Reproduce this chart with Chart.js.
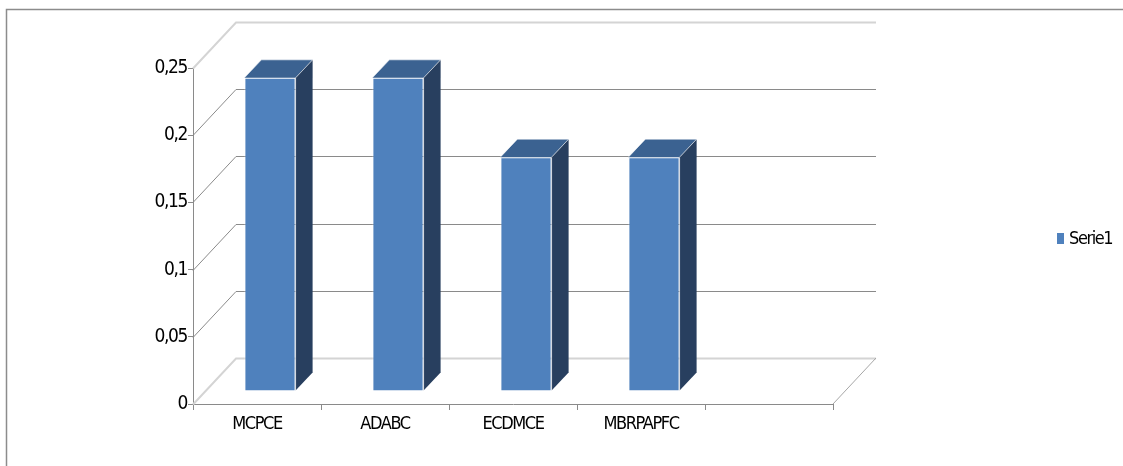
<!DOCTYPE html>
<html>
<head>
<meta charset="utf-8">
<script src="https://cdn.jsdelivr.net/npm/chart.js@4/dist/chart.umd.min.js"></script>
<style>
  html, body { margin: 0; padding: 0; background: #ffffff; }
  #wrap { width: 1123px; height: 466px; }
</style>
</head>
<body>
<div id="wrap"><canvas id="barChart" width="1123" height="466"></canvas></div>
<script>
const categories = ["MCPCE", "ADABC", "ECDMCE", "MBRPAPFC", ""];
const serie1 = [0.233, 0.233, 0.174, 0.174, null];
const yTickLabels = ["0", "0,05", "0,1", "0,15", "0,2", "0,25"];
const seriesName = "Serie1";

const FONT = "'Liberation Sans Narrow', 'DejaVu Sans Condensed', 'Liberation Sans', sans-serif";

// depth of the 3d box (back wall) and of the bars
const WALL_DX = 43, WALL_DY = 46;
const BAR_SHIFT = 13;
const BAR_DX = 17, BAR_DY = 18;

const tightText = {
  id: "tightText",
  beforeLayout(chart) { chart.ctx.letterSpacing = "-1.4px"; },
  beforeDraw(chart) { chart.ctx.letterSpacing = "-1.4px"; }
};

const frame3d = {
  id: "frame3d",
  beforeDraw(chart) {
    const ctx = chart.ctx;
    ctx.save();
    ctx.strokeStyle = "#8c8c8c";
    ctx.lineWidth = 1.5;
    ctx.strokeRect(6.5, 9.5, 1400, 800);
    ctx.restore();
  },
  beforeDatasetsDraw(chart) {
    const ctx = chart.ctx;
    const { left, right, bottom } = chart.chartArea;
    const yScale = chart.scales.y;
    const ticks = yScale.ticks;
    ctx.save();
    ticks.forEach((t, i) => {
      const y = Math.round(yScale.getPixelForValue(t.value)) + 0.5;
      const light = i === 0 || i === ticks.length - 1;
      ctx.strokeStyle = light ? "#d4d4d4" : "#8a8a8a";
      ctx.lineWidth = light ? 2 : 1;
      ctx.beginPath();
      ctx.moveTo(left, y);
      ctx.lineTo(left + WALL_DX, y - WALL_DY);
      ctx.lineTo(right + WALL_DX, y - WALL_DY);
      ctx.stroke();
    });
    // right floor edge
    ctx.strokeStyle = "#a6a6a6";
    ctx.lineWidth = 1;
    ctx.beginPath();
    ctx.moveTo(right, bottom);
    ctx.lineTo(right + WALL_DX, bottom - WALL_DY);
    ctx.stroke();
    ctx.restore();

    // bars stand a little behind the front edge of the floor
    ctx.save();
    ctx.translate(BAR_SHIFT, -BAR_SHIFT);
  },
  afterDatasetsDraw(chart) {
    const ctx = chart.ctx;
    const meta = chart.getDatasetMeta(0);
    meta.data.forEach((bar, i) => {
      if (serie1[i] == null) return;
      const { x, y, base, width } = bar.getProps(["x", "y", "base", "width"], true);
      const l = x - width / 2, r = x + width / 2;
      // top face
      ctx.fillStyle = "#3b6291";
      ctx.beginPath();
      ctx.moveTo(l, y);
      ctx.lineTo(l + BAR_DX, y - BAR_DY);
      ctx.lineTo(r + BAR_DX, y - BAR_DY);
      ctx.lineTo(r, y);
      ctx.closePath();
      ctx.fill();
      // side face
      ctx.fillStyle = "#283f5f";
      ctx.beginPath();
      ctx.moveTo(r, y);
      ctx.lineTo(r + BAR_DX, y - BAR_DY);
      ctx.lineTo(r + BAR_DX, base - BAR_DY);
      ctx.lineTo(r, base);
      ctx.closePath();
      ctx.fill();
      // light edges
      ctx.strokeStyle = "rgba(255,255,255,0.55)";
      ctx.lineWidth = 1;
      ctx.beginPath();
      ctx.moveTo(l, y);
      ctx.lineTo(l + BAR_DX, y - BAR_DY);
      ctx.lineTo(r + BAR_DX, y - BAR_DY);
      ctx.moveTo(r, y);
      ctx.lineTo(r + BAR_DX, y - BAR_DY);
      ctx.moveTo(r, y);
      ctx.lineTo(r, base);
      ctx.stroke();
    });
    ctx.restore();
  },
  afterDraw(chart) {
    // legend on the right
    const ctx = chart.ctx;
    ctx.save();
    ctx.fillStyle = "#4f81bd";
    ctx.fillRect(1057, 233, 7, 11);
    ctx.fillStyle = "#000000";
    ctx.font = "18px " + FONT;
    ctx.textBaseline = "middle";
    ctx.textAlign = "left";
    ctx.fillText(chart.data.datasets[0].label, 1069, 239);
    ctx.restore();
  }
};

new Chart(document.getElementById("barChart"), {
  type: "bar",
  data: {
    labels: categories,
    datasets: [{
      label: seriesName,
      data: serie1,
      backgroundColor: "#4f81bd",
      borderColor: "rgba(255,255,255,0.45)",
      borderWidth: 1,
      barPercentage: 0.4,
      categoryPercentage: 1,
      clip: false
    }]
  },
  options: {
    responsive: false,
    animation: false,
    events: [],
    layout: { padding: { left: 0, right: 290, top: 68, bottom: 0 } },
    plugins: {
      legend: { display: false },
      tooltip: { enabled: false }
    },
    scales: {
      x: {
        offset: true,
        afterFit(scale) { scale.height = 62; },
        grid: {
          offset: true,
          drawOnChartArea: false,
          drawTicks: true,
          tickLength: 6,
          color: "#8a8a8a"
        },
        border: { display: true, color: "#8a8a8a", width: 1 },
        ticks: {
          color: "#000000",
          padding: 4,
          maxRotation: 0,
          autoSkip: false,
          font: { family: FONT, size: 18 }
        }
      },
      y: {
        min: 0,
        max: 0.25,
        afterFit(scale) { scale.width = 193; },
        grid: {
          drawOnChartArea: false,
          drawTicks: true,
          tickLength: 5,
          color: "#8a8a8a"
        },
        border: { display: true, color: "#8a8a8a", width: 1 },
        ticks: {
          stepSize: 0.05,
          color: "#000000",
          padding: 1,
          font: { family: FONT, size: 19 },
          callback: (value, index) => yTickLabels[index]
        }
      }
    }
  },
  plugins: [tightText, frame3d]
});
</script>
</body>
</html>
